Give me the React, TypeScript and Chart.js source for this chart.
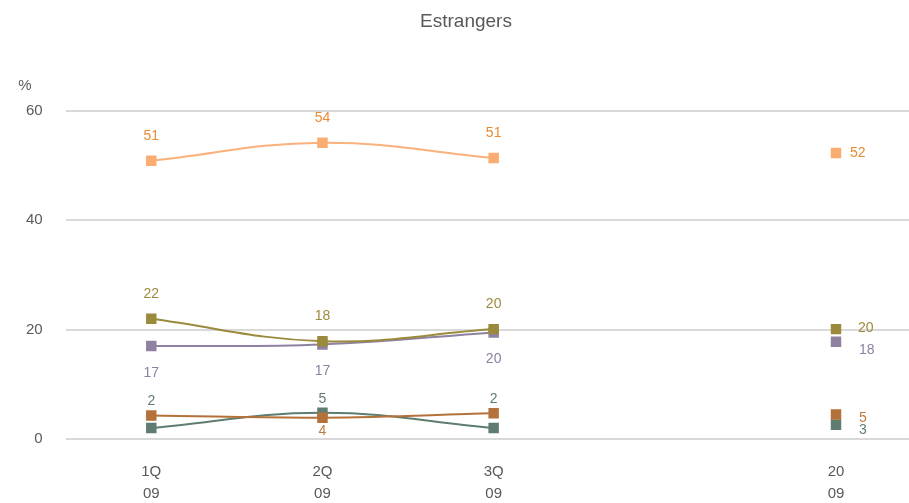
import React, { useEffect, useRef } from "react";
import { Chart, registerables } from "chart.js";

Chart.register(...registerables);

// ---- data ----
const categories: (string | string[])[] = [["1Q", "09"], ["2Q", "09"], ["3Q", "09"], "", ["20", "09"]];
const orangeValues = [50.9, 54.2, 51.4, null, 52.3];
const oliveValues = [22.0, 17.9, 20.1, null, 20.1];
const purpleValues = [17.0, 17.3, 19.5, null, 17.8];
const brownValues = [4.3, 3.9, 4.7, null, 4.5];
const tealValues = [2.0, 4.8, 2.0, null, 2.6];
const yMin = 0;
const yMax = 60;
const yStep = 20;

const FONT = '"Liberation Sans", Arial, sans-serif';
const TEXT = "#595959";

const series = [
  { name: "Sèrie A", data: orangeValues, line: "#FBB17B", point: "#FBAC70", label: "#E98A35" },
  { name: "Sèrie B", data: oliveValues, line: "#9B8A3C", point: "#9B8A3C", label: "#9B8A3C" },
  { name: "Sèrie C", data: purpleValues, line: "#8E81A1", point: "#8E81A1", label: "#8E81A1" },
  { name: "Sèrie D", data: brownValues, line: "#B5713A", point: "#B5713A", label: "#C07A3C" },
  { name: "Sèrie E", data: tealValues, line: "#5F7C71", point: "#5F7C71", label: "#5F7C71" },
];

// label placement rules per series (relative to point; "group" = also consider
// that other series' point and place above the higher one)
const labelRules = [
  { dy: -25, lastDx: 14, lastDy: 0, skip: [] as number[], group: -1 },
  { dy: -25, lastDx: 22, lastDy: -1, skip: [] as number[], group: -1 },
  { dy: 27, lastDx: 23, lastDy: 8, skip: [] as number[], group: -1 },
  { dy: 13, lastDx: 23, lastDy: 4, skip: [0, 2], group: -1 },
  { dy: -14, lastDx: 23, lastDy: 5, skip: [] as number[], group: 3 },
];

const valueLabels = {
  id: "valueLabels",
  afterDatasetsDraw(chart: any) {
    const ctx = chart.ctx;
    ctx.save();
    ctx.font = `14px ${FONT}`;
    ctx.textBaseline = "middle";
    chart.data.datasets.forEach((ds: any, di: number) => {
      const meta = chart.getDatasetMeta(di);
      const rule = labelRules[di];
      meta.data.forEach((pt: any, i: number) => {
        const v = ds.data[i];
        if (v == null || rule.skip.includes(i)) return;
        ctx.fillStyle = series[di].label;
        const txt = String(Math.round(v));
        if (i === ds.data.length - 1) {
          ctx.textAlign = "left";
          ctx.fillText(txt, pt.x + rule.lastDx, pt.y + rule.lastDy);
        } else {
          let anchor = pt.y;
          if (rule.group >= 0) {
            const other = chart.getDatasetMeta(rule.group).data[i];
            if (other) anchor = Math.min(anchor, other.y);
          }
          ctx.textAlign = "center";
          ctx.fillText(txt, pt.x, anchor + rule.dy);
        }
      });
    });
    ctx.restore();
  },
};

const headings = {
  id: "headings",
  afterDraw(chart: any) {
    const ctx = chart.ctx;
    ctx.save();
    ctx.fillStyle = TEXT;
    ctx.textBaseline = "middle";
    ctx.textAlign = "center";
    ctx.font = `19px ${FONT}`;
    ctx.fillText("Estrangers", 466, 22);
    ctx.font = `15px ${FONT}`;
    ctx.fillText("%", 25, 86);
    ctx.restore();
  },
};

export default function App() {
  const ref = useRef<HTMLCanvasElement | null>(null);

  useEffect(() => {
    if (!ref.current) return;
    const chart = new Chart(ref.current, {
      type: "line",
      data: {
        labels: categories,
        datasets: series.map((s) => ({
          label: s.name,
          data: s.data,
          borderColor: s.line,
          backgroundColor: s.point,
          borderWidth: 2,
          tension: 0.4,
          spanGaps: false,
          pointStyle: "rect",
          pointRadius: 7.4,
          pointBorderWidth: 0,
          pointBackgroundColor: s.point,
          pointBorderColor: s.point,
          fill: false,
        })),
      },
      options: {
        responsive: false,
        animation: false,
        devicePixelRatio: 1,
        layout: { padding: { top: 111, left: 3, right: 0, bottom: 0 } },
        plugins: {
          legend: { display: false },
          title: { display: false },
          tooltip: { enabled: false },
        },
        scales: {
          x: {
            offset: true,
            grid: { display: false, drawTicks: false },
            border: { display: false },
            ticks: {
              autoSkip: false,
              maxRotation: 0,
              padding: 22,
              color: TEXT,
              font: { family: FONT, size: 15, lineHeight: "22px" },
            },
          },
          y: {
            min: yMin,
            max: yMax,
            grid: { color: "#D9D9D9", lineWidth: 2, drawTicks: false },
            border: { display: false },
            ticks: {
              stepSize: yStep,
              padding: 23,
              color: TEXT,
              font: { family: FONT, size: 15 },
            },
          },
        },
      },
      plugins: [valueLabels, headings],
    });
    return () => chart.destroy();
  }, []);

  return (
    <div
      style={{
        position: "fixed",
        left: 0,
        top: 0,
        width: 909,
        height: 503,
        overflow: "hidden",
        background: "#fff",
      }}
    >
      <canvas ref={ref} width={929} height={527} style={{ display: "block" }} />
    </div>
  );
}
